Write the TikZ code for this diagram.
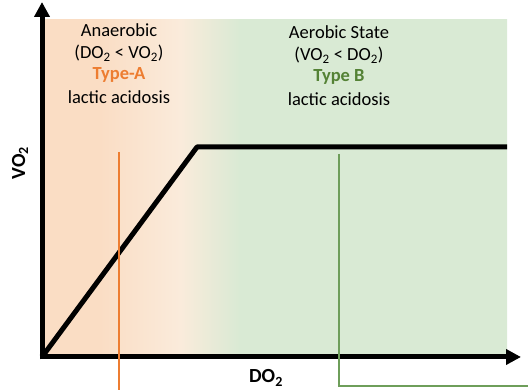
\documentclass[tikz,border=0pt]{standalone}
\usepackage{fontspec}
\setmainfont{Carlito}
\usetikzlibrary{positioning,arrows.meta}
\usepackage{xcolor}
\definecolor{anaerobg}{HTML}{FADDC4}
\definecolor{midbg}{HTML}{FAEBDB}
\definecolor{aerobg}{HTML}{D9EAD4}
\definecolor{typea}{HTML}{ED7D31}
\definecolor{typeb}{HTML}{548235}
\definecolor{typebline}{HTML}{6E9E5A}
\pgfdeclarehorizontalshading{zoneshade}{100bp}{color(0bp)=(anaerobg); color(31.1bp)=(anaerobg);
  color(39.8bp)=(midbg); color(46.2bp)=(aerobg); color(100bp)=(aerobg)}
\tikzset{
  axis/.style={line width=5pt,-{Triangle[length=15pt,width=15pt]}},
  curve/.style={line width=5pt,line join=round},
  zonetext/.style={font=\fontsize{18.5}{22}\selectfont,anchor=base,inner sep=0pt},
  typetext/.style={zonetext,font=\fontsize{18.5}{22}\selectfont\bfseries},
  axislabel/.style={font=\fontsize{20}{24}\selectfont\bfseries,inner sep=0pt},
}
\begin{document}
\begin{tikzpicture}[x=1pt,y=1pt]
    \useasboundingbox (0,0) rectangle (528,390);

    % Background zones
    \shade[shading=zoneshade] (43,33) rectangle (507,370);

    % Axes
    \coordinate (origin) at (42,33);
    \coordinate (ytip) at (42,388);
    \coordinate (xtip) at (521,33);
    \coordinate (knee) at (197,243);
    \coordinate (plateau) at (507,243);
    \draw[curve] (origin) -- (knee) -- (plateau);
    \draw[axis] ([yshift=-2.5pt]origin) -- (ytip);
    \draw[axis] ([xshift=-2.5pt]origin) -- (xtip);
    \node[axislabel,rotate=90] (vo2) at (20,227) {VO\textsubscript{2}};
    \node[axislabel] (do2) at (266,12) {DO\textsubscript{2}};

    % Type marker lines
    \coordinate (typeAtop) at (119,238);
    \coordinate (typeAend) at (119,0);
    \coordinate (typeBtop) at (339,236);
    \coordinate (typeBbend) at (339,4);
    \coordinate (typeBend) at (528,4);
    \draw[typea,line width=1.3pt] (typeAtop) -- (typeAend);
    \draw[typebline,line width=1.3pt] (typeBtop) -- (typeBbend) -- (typeBend);

    % Anaerobic zone
    \node[zonetext] (anaerobic) at (119,353) {Anaerobic};
    \node[zonetext] (anaerocond) at (119,331) {(DO\textsubscript{2} < VO\textsubscript{2})};
    \node[typetext,text=typea] (typeA) at (119,310) {Type-A};
    \node[zonetext] (lacticA) at (119,286) {lactic acidosis};

    % Aerobic zone
    \node[zonetext] (aerobic) at (339,351) {Aerobic State};
    \node[zonetext] (aerocond) at (339,329) {(VO\textsubscript{2} < DO\textsubscript{2})};
    \node[typetext,text=typeb] (typeB) at (339,308) {Type B};
    \node[zonetext] (lacticB) at (339,284) {lactic acidosis};
\end{tikzpicture}
\end{document}
